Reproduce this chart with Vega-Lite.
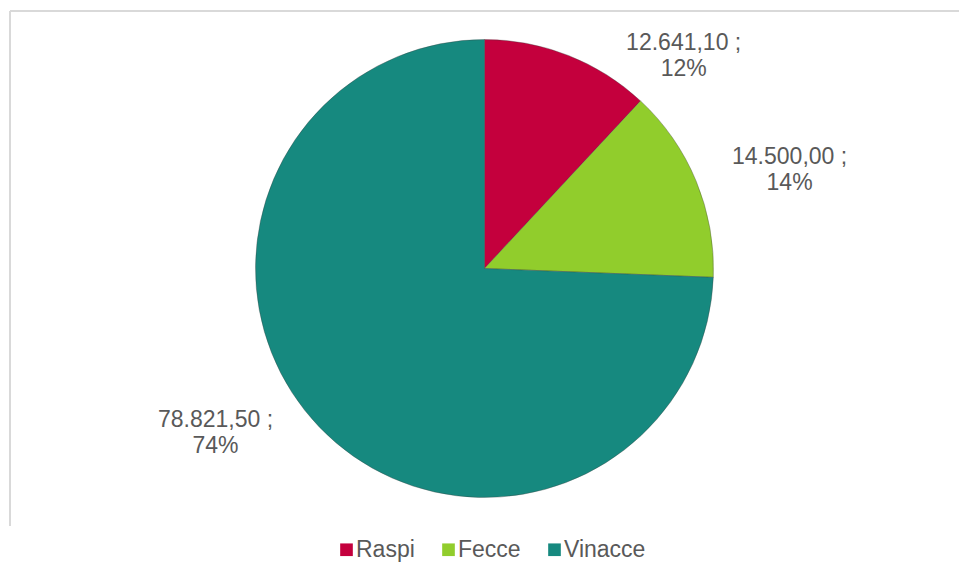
{
  "$schema": "https://vega.github.io/schema/vega-lite/v6.json",
  "autosize": {"type": "none"},
  "width": 949,
  "height": 515,
  "padding": {"left": 10, "top": 11, "right": 0, "bottom": 52},
  "background": "#ffffff",
  "view": {"stroke": "#d9d9d9", "strokeWidth": 2, "strokeDash": [949, 1464, 515, 0]},
  "config": {
    "locale": {"number": {"decimal": ",", "thousands": ".", "grouping": [3], "currency": ["€", ""]}},
    "font": "Liberation Sans"
  },
  "data": {
    "values": [
      {"cat": "Raspi", "value": 12641.1, "ord": 1},
      {"cat": "Fecce", "value": 14500.0, "ord": 2},
      {"cat": "Vinacce", "value": 78821.5, "ord": 3}
    ]
  },
  "transform": [
    {"joinaggregate": [{"op": "sum", "field": "value", "as": "total"}]},
    {"calculate": "[format(datum.value, ',.2f') + ' ;', format(datum.value / datum.total, '.0%')]", "as": "lbl"}
  ],
  "encoding": {
    "theta": {"field": "value", "type": "quantitative", "stack": true},
    "order": {"field": "ord", "type": "quantitative"}
  },
  "layer": [
    {
      "mark": {"type": "arc", "outerRadius": 229, "stroke": "#3d3d3d", "strokeOpacity": 0.35, "strokeWidth": 1},
      "encoding": {
        "color": {
          "field": "cat",
          "type": "nominal",
          "scale": {"domain": ["Raspi", "Fecce", "Vinacce"], "range": ["#C4003D", "#91CD2C", "#16897F"]},
          "legend": {
            "title": null,
            "orient": "none",
            "legendX": 325,
            "legendY": 527,
            "direction": "horizontal",
            "symbolType": "square",
            "symbolSize": 160,
            "symbolStrokeWidth": 0,
            "labelFontSize": 23,
            "labelColor": "#595959",
            "labelFont": "Liberation Sans",
            "labelOffset": -2,
            "columnPadding": 22
          }
        }
      }
    },
    {
      "transform": [{"calculate": "datum.cat === 'Raspi' ? datum.lbl : ''", "as": "t"}],
      "mark": {"type": "text", "radius": 290, "dx": 93, "dy": 44, "fontSize": 23, "lineHeight": 26, "fill": "#595959", "align": "center", "baseline": "middle"},
      "encoding": {"text": {"field": "t"}}
    },
    {
      "transform": [{"calculate": "datum.cat === 'Fecce' ? datum.lbl : ''", "as": "t"}],
      "mark": {"type": "text", "radius": 290, "dx": 37, "dy": -1, "fontSize": 23, "lineHeight": 26, "fill": "#595959", "align": "center", "baseline": "middle"},
      "encoding": {"text": {"field": "t"}}
    },
    {
      "transform": [{"calculate": "datum.cat === 'Vinacce' ? datum.lbl : ''", "as": "t"}],
      "mark": {"type": "text", "radius": 290, "dx": -60, "dy": -50, "fontSize": 23, "lineHeight": 26, "fill": "#595959", "align": "center", "baseline": "middle"},
      "encoding": {"text": {"field": "t"}}
    }
  ]
}
